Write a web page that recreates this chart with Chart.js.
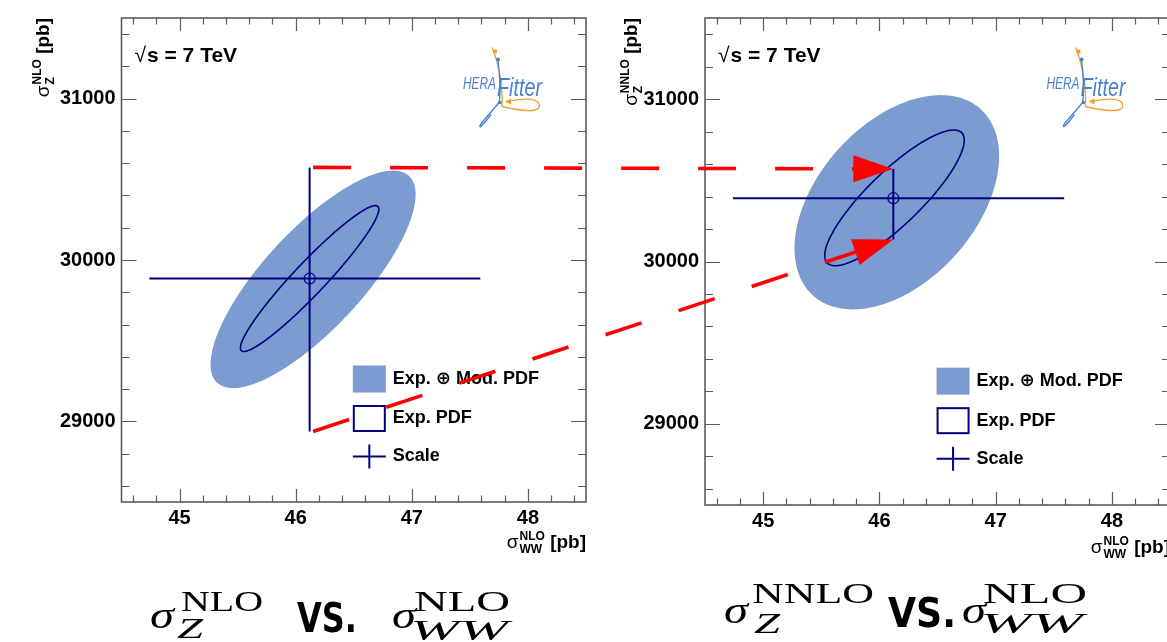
<!DOCTYPE html>
<html>
<head>
<meta charset="utf-8">
<script src="https://cdn.jsdelivr.net/npm/chart.js@4.4.0/dist/chart.umd.min.js"></script>
<style>
  body { margin: 0; width: 1167px; height: 642px; overflow: hidden; background: #fff; position: relative; }
  canvas { position: absolute; top: 0; }
  #nlo { left: 0; }
  #nnlo { left: 600px; }
  #overlay { left: 0; pointer-events: none; }
</style>
</head>
<body>
<canvas id="nlo" width="600" height="570"></canvas>
<canvas id="nnlo" width="600" height="570"></canvas>
<canvas id="overlay" width="1167" height="642"></canvas>
<script>
// axis ranges and ticks (sigma_WW on x, sigma_Z on y, both in pb)
const xLimits = [44.5, 48.5];
const yLimits = [28500, 31500];
const xMajorTicks = [45, 46, 47, 48];
const yMajorTicks = [29000, 30000, 31000];
const xMinorStep = 0.2;
const yMinorStep = 200;

// NLO Z vs NLO WW
const centreNLO = [46.12, 29885];
const totalPdfNLO = [46.15, 29880, 0.883, 674, 0.78];   // cx, cy, sx, sy, rho
const expPdfNLO = [46.12, 29885, 0.596, 452, 0.95];
const scaleNLO = [44.74, 47.59, 28937, 30574];          // xLow, xHigh, yLow, yHigh

// NNLO Z vs NLO WW
const centreNNLO = [46.12, 30390];
const totalPdfNNLO = [46.15, 30365, 0.88, 660, 0.43];
const expPdfNNLO = [46.13, 30392, 0.60, 418, 0.85];
const scaleNNLO = [44.74, 47.59, 30135, 30570];

// red guide arrows: NLO scale-band ends (left) -> NNLO ones (right)
const arrowFrom = [[46.15, 30574], [46.15, 28937]];
const arrowTo = [[46.12, 30570], [46.12, 30135]];

const legendLabels = ['Exp. \u2295 Mod. PDF', 'Exp. PDF', 'Scale'];

const NAVY = '#000080';
const FILL = '#7b9bd1';
const RED = '#ff0000';
const FRAME = '#5c5c5c';
const SANS = '"Liberation Sans", Arial, Helvetica, "DejaVu Sans", sans-serif';
const SERIF = '"Liberation Serif", "DejaVu Serif", serif';

function ellipsePath(ctx, chart, e) {
  const [cx, cy, sx, sy, rho] = e;
  const xs = chart.scales.x, ys = chart.scales.y;
  const k = Math.sqrt(1 - rho * rho);
  ctx.beginPath();
  for (let i = 0; i <= 240; i++) {
    const t = (i / 240) * 2 * Math.PI;
    const px = xs.getPixelForValue(cx + sx * Math.cos(t));
    const py = ys.getPixelForValue(cy + sy * (rho * Math.cos(t) + k * Math.sin(t)));
    if (i) ctx.lineTo(px, py); else ctx.moveTo(px, py);
  }
  ctx.closePath();
}

function drawTicks(ctx, chart) {
  const { left, right, top, bottom } = chart.chartArea;
  const xs = chart.scales.x, ys = chart.scales.y;
  ctx.strokeStyle = FRAME;
  ctx.lineWidth = 1.2;
  ctx.beginPath();
  for (let i = Math.ceil(xLimits[0] / xMinorStep); i * xMinorStep < xLimits[1]; i++) {
    const v = i * xMinorStep;
    const major = xMajorTicks.some((m) => Math.abs(m - v) < 1e-6);
    const len = major ? 13 : 6.5;
    const px = Math.round(xs.getPixelForValue(v)) + 0.5;
    ctx.moveTo(px, bottom); ctx.lineTo(px, bottom - len);
    ctx.moveTo(px, top); ctx.lineTo(px, top + len);
  }
  for (let i = Math.ceil(yLimits[0] / yMinorStep); i * yMinorStep < yLimits[1]; i++) {
    const v = i * yMinorStep;
    const major = yMajorTicks.includes(v);
    const len = major ? 15 : 8;
    const py = Math.round(ys.getPixelForValue(v)) + 0.5;
    ctx.moveTo(left, py); ctx.lineTo(left + len, py);
    ctx.moveTo(right, py); ctx.lineTo(right - len, py);
  }
  ctx.stroke();
  ctx.lineWidth = 1.6;
  ctx.strokeRect(left, top, right - left, bottom - top);
}

function fitText(ctx, text, x, y, font, width) {
  ctx.save();
  ctx.font = font;
  const s = width / ctx.measureText(text).width;
  ctx.translate(x, y);
  ctx.scale(s, 1);
  ctx.fillText(text, 0, 0);
  ctx.restore();
}

function drawLogo(ctx, ax, ay) {
  ctx.save();
  ctx.translate(ax, ay);
  ctx.lineWidth = 1.3;
  ctx.strokeStyle = '#f0a030';
  ctx.beginPath();
  ctx.moveTo(29, -41);
  ctx.bezierCurveTo(36, -25, 40, 0, 39, 18);
  ctx.bezierCurveTo(55, 22, 80, 26, 76, 15);
  ctx.bezierCurveTo(72, 8, 55, 11, 45, 13);
  ctx.stroke();
  ctx.fillStyle = '#f0a030';
  ctx.beginPath(); ctx.arc(32, -37, 2.2, 0, 2 * Math.PI); ctx.fill();
  ctx.beginPath(); ctx.moveTo(42, 13); ctx.lineTo(48, 10); ctx.lineTo(48, 16); ctx.closePath(); ctx.fill();
  ctx.strokeStyle = '#4a7fcf';
  ctx.beginPath();
  ctx.moveTo(35, -29);
  ctx.bezierCurveTo(37, -10, 38, 5, 36, 14);
  ctx.bezierCurveTo(30, 22, 18, 34, 17, 37);
  ctx.bezierCurveTo(16, 41, 22, 34, 28, 26);
  ctx.stroke();
  ctx.fillStyle = '#4a7fcf';
  ctx.beginPath(); ctx.arc(35, -29, 2, 0, 2 * Math.PI); ctx.fill();
  ctx.beginPath(); ctx.arc(37, 14, 1.7, 0, 2 * Math.PI); ctx.fill();
  ctx.textBaseline = 'alphabetic';
  ctx.textAlign = 'left';
  fitText(ctx, 'HERA', 0, 0, 'italic 17px ' + SANS, 33);
  fitText(ctx, 'Fitter', 34, 7, 'italic 25px ' + SANS, 45);
  ctx.restore();
}

// sigma with stacked sub/superscript followed by " [pb]"
function titleParts(sup, sub) {
  return [
    { text: '\u03c3', font: '19px ' + SANS, dy: 0 },
    { text: sup, font: 'bold 12px ' + SANS, dy: -8 },
    { text: sub, font: 'bold 12px ' + SANS, dy: 5 },
    { text: ' [pb]', font: 'bold 19px ' + SANS, dy: 0 },
  ];
}

function drawTitle(ctx, parts) {
  const w = parts.map((p) => { ctx.font = p.font; return ctx.measureText(p.text).width; });
  const total = w[0] + 1 + Math.max(w[1], w[2]) + w[3];
  let x = -total;
  ctx.textAlign = 'left';
  ctx.textBaseline = 'alphabetic';
  ctx.font = parts[0].font; ctx.fillText(parts[0].text, x, 0);
  x += w[0] + 1;
  ctx.font = parts[1].font; ctx.fillText(parts[1].text, x, parts[1].dy);
  ctx.font = parts[2].font; ctx.fillText(parts[2].text, x, parts[2].dy);
  x += Math.max(w[1], w[2]);
  ctx.font = parts[3].font; ctx.fillText(parts[3].text, x, 0);
}

const panelDecor = {
  id: 'panelDecor',
  beforeDatasetsDraw(chart, args, opts) {
    const ctx = chart.ctx;
    const a = chart.chartArea;
    ctx.save();
    ctx.beginPath();
    ctx.rect(a.left, a.top, a.right - a.left, a.bottom - a.top);
    ctx.clip();
    ellipsePath(ctx, chart, opts.total);
    ctx.fillStyle = FILL;
    ctx.fill();
    ellipsePath(ctx, chart, opts.exp);
    ctx.strokeStyle = NAVY;
    ctx.lineWidth = 1.6;
    ctx.stroke();
    ctx.restore();
  },
  afterDraw(chart, args, opts) {
    const ctx = chart.ctx;
    const { left, right, top, bottom } = chart.chartArea;
    const w = right - left, h = bottom - top;
    ctx.save();
    drawTicks(ctx, chart);

    // sqrt(s) label
    ctx.fillStyle = '#000';
    ctx.textBaseline = 'alphabetic';
    ctx.textAlign = 'left';
    ctx.font = '21px ' + SANS;
    ctx.fillText('\u221a', left + 13, top + 44);
    ctx.font = 'bold 21px ' + SANS;
    ctx.fillText('s = 7 TeV', left + 25.5, top + 44);

    drawLogo(ctx, left + 341.5, top + 70.5);

    // legend
    const bx = left + 0.498 * w;
    const by = top + 0.718 * h;
    legendLabels.forEach((label, i) => {
      const y0 = by + i * 39.5;
      if (i === 0) {
        ctx.fillStyle = FILL;
        ctx.fillRect(bx, y0, 33, 27);
      } else if (i === 1) {
        ctx.strokeStyle = NAVY;
        ctx.lineWidth = 2;
        ctx.strokeRect(bx + 1, y0 + 1, 31, 25);
      } else {
        ctx.strokeStyle = NAVY;
        ctx.lineWidth = 2;
        ctx.beginPath();
        ctx.moveTo(bx, y0 + 12); ctx.lineTo(bx + 33, y0 + 12);
        ctx.moveTo(bx + 16.5, y0); ctx.lineTo(bx + 16.5, y0 + 24);
        ctx.stroke();
      }
      ctx.fillStyle = '#000';
      ctx.font = 'bold 18px ' + SANS;
      ctx.textBaseline = 'middle';
      ctx.fillText(label, bx + 40, y0 + (i === 2 ? 12 : 13.5));
    });

    // axis titles
    ctx.fillStyle = '#000';
    ctx.save();
    ctx.translate(right, bottom + opts.xTitleDrop);
    drawTitle(ctx, titleParts('NLO', 'WW'));
    ctx.restore();
    ctx.save();
    ctx.translate(opts.yTitleX, top);
    ctx.rotate(-Math.PI / 2);
    drawTitle(ctx, titleParts(opts.ySup, 'Z'));
    ctx.restore();
    ctx.restore();
  },
};

function makePanel(id, p) {
  const [cx, cy] = p.centre;
  const [xl, xh, yl, yh] = p.scale;
  return new Chart(document.getElementById(id), {
    type: 'scatter',
    data: {
      datasets: [
        { type: 'line', data: [{ x: xl, y: cy }, { x: xh, y: cy }], borderColor: NAVY, borderWidth: 2, pointRadius: 0, fill: false },
        { type: 'line', data: [{ x: cx, y: yl }, { x: cx, y: yh }], borderColor: NAVY, borderWidth: 2, pointRadius: 0, fill: false },
        { data: [{ x: cx, y: cy }], pointRadius: 5.5, pointStyle: 'circle', borderColor: NAVY, borderWidth: 1.2, backgroundColor: 'rgba(0,0,0,0)' },
      ],
    },
    options: {
      responsive: false,
      animation: false,
      events: [],
      layout: { padding: p.padding },
      plugins: {
        legend: { display: false },
        tooltip: { enabled: false },
        panelDecor: { total: p.total, exp: p.exp, ySup: p.ySup, yTitleX: p.yTitleX, xTitleDrop: p.xTitleDrop },
      },
      scales: {
        x: {
          type: 'linear', min: xLimits[0], max: xLimits[1],
          grid: { display: false, drawTicks: false }, border: { display: false },
          afterBuildTicks: (s) => { s.ticks = xMajorTicks.map((v) => ({ value: v })); },
          afterFit: (s) => { s.height = p.xAxisHeight; },
          ticks: { color: '#000', padding: 4, autoSkip: false, maxRotation: 0, font: { family: SANS, size: 20, weight: 'bold' }, callback: (v) => String(v) },
        },
        y: {
          type: 'linear', min: yLimits[0], max: yLimits[1],
          grid: { display: false, drawTicks: false }, border: { display: false },
          afterBuildTicks: (s) => { s.ticks = yMajorTicks.map((v) => ({ value: v })); },
          afterFit: (s) => { s.width = p.yAxisWidth; },
          ticks: { color: '#000', padding: 6, autoSkip: false, font: { family: SANS, size: 20, weight: 'bold' }, callback: (v) => String(v) },
        },
      },
    },
    plugins: [panelDecor],
  });
}

const nlo = makePanel('nlo', {
  centre: centreNLO, total: totalPdfNLO, exp: expPdfNLO, scale: scaleNLO,
  padding: { left: 0, top: 12.5, right: 14, bottom: 0 }, yAxisWidth: 121.5, xAxisHeight: 68,
  ySup: 'NLO', yTitleX: 49, xTitleDrop: 46,
});
const nnlo = makePanel('nnlo', {
  centre: centreNNLO, total: totalPdfNNLO, exp: expPdfNNLO, scale: scaleNNLO,
  padding: { left: 0, top: 15, right: 30, bottom: 0 }, yAxisWidth: 105, xAxisHeight: 65,
  ySup: 'NNLO', yTitleX: 37, xTitleDrop: 48,
});

// ---- overlay: guide arrows across both panels, and the captions ----
const overlay = document.getElementById('overlay').getContext('2d');

function pagePoint(chart, offsetX, v) {
  return [offsetX + chart.scales.x.getPixelForValue(v[0]), chart.scales.y.getPixelForValue(v[1])];
}

function drawArrow(ctx, from, to) {
  const dx = to[0] - from[0], dy = to[1] - from[1];
  const len = Math.hypot(dx, dy);
  const ux = dx / len, uy = dy / len;
  ctx.save();
  ctx.strokeStyle = RED;
  ctx.fillStyle = RED;
  ctx.lineWidth = 3.6;
  ctx.setLineDash([38, 39]);
  ctx.beginPath();
  ctx.moveTo(from[0], from[1]);
  ctx.lineTo(to[0] - ux * 30, to[1] - uy * 30);
  ctx.stroke();
  const hl = 40, hw = 13.5;
  const bxp = to[0] - ux * hl, byp = to[1] - uy * hl;
  ctx.beginPath();
  ctx.moveTo(to[0], to[1]);
  ctx.lineTo(bxp - uy * hw, byp + ux * hw);
  ctx.lineTo(bxp + uy * hw, byp - ux * hw);
  ctx.closePath();
  ctx.fill();
  ctx.restore();
}

arrowFrom.forEach((f, i) => {
  drawArrow(overlay, pagePoint(nlo, 0, f), pagePoint(nnlo, 600, arrowTo[i]));
});

const texFont = (size, italic) => (italic ? 'italic ' : '') + size + 'px ' + SERIF;
const vsFont = 'bold 40px "DejaVu Sans", sans-serif';

overlay.fillStyle = '#000';
overlay.textBaseline = 'alphabetic';
// left caption
fitText(overlay, '\u03c3', 150, 628, texFont(38, true), 24);
fitText(overlay, 'NLO', 181, 611, texFont(29, false), 82);
fitText(overlay, 'Z', 177, 638, texFont(29, true), 26);
fitText(overlay, 'VS.', 297, 632, vsFont, 60);
fitText(overlay, '\u03c3', 392, 628, texFont(38, true), 24);
fitText(overlay, 'NLO', 414, 611, texFont(29, false), 96);
fitText(overlay, 'WW', 410, 640, texFont(29, true), 98);
// right caption
fitText(overlay, '\u03c3', 724, 623, texFont(38, true), 24);
fitText(overlay, 'NNLO', 752, 603, texFont(29, false), 122);
fitText(overlay, 'Z', 754, 633, texFont(29, true), 26);
fitText(overlay, 'VS.', 888, 627, vsFont, 68);
fitText(overlay, '\u03c3', 962, 623, texFont(38, true), 24);
fitText(overlay, 'NLO', 983, 603, texFont(29, false), 104);
fitText(overlay, 'WW', 980, 633, texFont(29, true), 103);
</script>
</body>
</html>
